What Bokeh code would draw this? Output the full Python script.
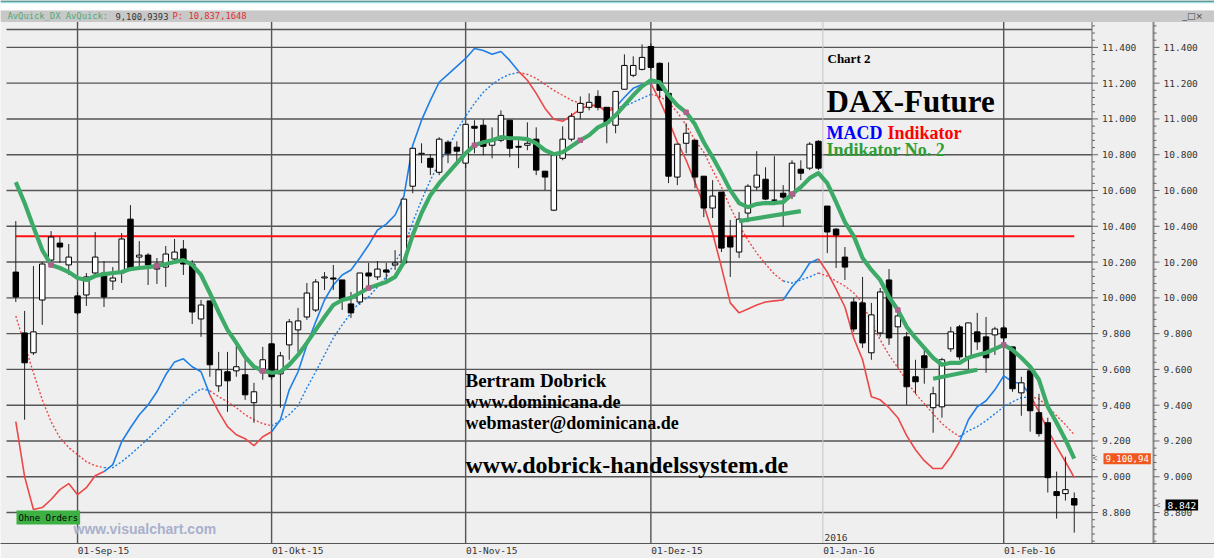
from bokeh.plotting import figure
from bokeh.models import Range1d, FixedTicker, Label, ColumnDataSource
from bokeh.embed import file_html
from bokeh.resources import INLINE
from bokeh.core.properties import value

# ---------------- data ----------------
bars = list(range(121))
opens = [10144, 9804, 9693, 9988, 10211, 10306, 10184, 10011, 10016, 10139,
         10139, 10094, 10139, 10440, 10228, 10239, 10189, 10172, 10217, 10273,
         10189, 9882, 9983, 9508, 9587, 9592, 9570, 9414, 9581, 9743,
         9575, 9737, 9821, 9893, 9932, 10111, 10111, 10100, 9966, 9977,
         10139, 10117, 10156, 10184, 10195, 10624, 10803, 10780, 10702, 10870,
         10842, 10753, 10959, 10965, 10853, 10881, 10993, 10847, 10853, 10887,
         10708, 10490, 10780, 10887, 11037, 11065, 11126, 11065, 10965, 11166,
         11244, 11277, 11405, 11311, 11143, 10675, 10864, 10881, 10680, 10502,
         10591, 10340, 10256, 10474, 10619, 10663, 10546, 10585, 10569, 10719,
         10725, 10875, 10513, 10384, 10228, 9977, 9972, 9693, 9804, 10100,
         9838, 9782, 9559, 9676, 9386, 9391, 9715, 9838, 9670, 9810,
         9782, 9793, 9832, 9726, 9469, 9592, 9358, 9302, 8917, 8906, 8878]
highs = [10429, 9927, 10178, 10200, 10373, 10340, 10301, 10033, 10139, 10368,
         10206, 10172, 10362, 10518, 10317, 10250, 10223, 10290, 10329, 10323,
         10211, 9988, 9983, 9698, 9698, 9732, 9659, 9525, 9726, 9748,
         9698, 9882, 9944, 10083, 10105, 10144, 10184, 10100, 10033, 10139,
         10195, 10206, 10195, 10267, 10552, 10836, 10864, 10803, 10898, 10881,
         10875, 10970, 10993, 10998, 10953, 11048, 10993, 10881, 10981, 10953,
         10708, 10797, 10959, 11032, 11126, 11143, 11160, 11065, 11154, 11361,
         11350, 11417, 11422, 11316, 11316, 10859, 10976, 10881, 10680, 10658,
         10591, 10435, 10479, 10635, 10820, 10730, 10792, 10630, 10769, 10769,
         10870, 10881, 10513, 10390, 10284, 10000, 10117, 9972, 10055, 10161,
         9944, 9810, 9654, 9726, 9503, 9665, 9838, 9849, 9860, 9916,
         9893, 9838, 9843, 9726, 9559, 9592, 9464, 9330, 9029, 9112, 8912]
lows = [9977, 9319, 9681, 9849, 10200, 10195, 10128, 9905, 9955, 10111,
        9949, 10044, 10083, 10156, 10156, 10072, 10078, 10061, 10200, 10128,
        9854, 9782, 9559, 9475, 9363, 9559, 9430, 9302, 9542, 9542,
        9386, 9654, 9698, 9877, 9921, 10044, 10044, 9932, 9888, 9960,
        10044, 10100, 10083, 10156, 10184, 10585, 10753, 10686, 10686, 10753,
        10741, 10725, 10808, 10797, 10780, 10870, 10786, 10725, 10825, 10686,
        10602, 10485, 10769, 10875, 10998, 11048, 11048, 10864, 10920, 11166,
        11233, 11271, 11271, 11115, 10641, 10630, 10808, 10613, 10451, 10446,
        10256, 10117, 10223, 10423, 10602, 10546, 10518, 10396, 10552, 10658,
        10714, 10714, 10250, 10167, 10100, 9810, 9720, 9654, 9782, 9737,
        9609, 9402, 9464, 9520, 9246, 9330, 9698, 9654, 9598, 9709,
        9581, 9681, 9737, 9475, 9341, 9252, 9224, 8912, 8766, 8867, 8688]
closes = [10005, 9637, 9810, 10189, 10340, 10284, 10228, 9916, 10117, 10228,
          10005, 10111, 10329, 10167, 10239, 10184, 10161, 10245, 10256, 10189,
          9921, 9960, 9626, 9598, 9536, 9615, 9458, 9475, 9654, 9559,
          9676, 9866, 9871, 10027, 10089, 10117, 10105, 9994, 9916, 10139,
          10122, 10161, 10144, 10195, 10552, 10836, 10808, 10730, 10887, 10808,
          10820, 10970, 10948, 10847, 10881, 11020, 10836, 10842, 10864, 10714,
          10675, 10797, 10887, 11015, 11087, 11093, 11065, 10976, 11154, 11299,
          11299, 11344, 11288, 11160, 10680, 10859, 10920, 10675, 10502, 10569,
          10278, 10284, 10440, 10624, 10686, 10552, 10546, 10563, 10753, 10697,
          10859, 10725, 10368, 10351, 10172, 9826, 9748, 9905, 10033, 9776,
          9899, 9503, 9531, 9609, 9464, 9654, 9810, 9670, 9860, 9754,
          9665, 9826, 9776, 9492, 9525, 9369, 9241, 8995, 8895, 8928, 8842]

# green thick average ("Indikator No. 2")
avquick = [10647, 10530, 10396, 10267, 10184, 10167, 10144, 10111, 10100, 10122,
           10133, 10139, 10144, 10161, 10167, 10172, 10178, 10189, 10200, 10211,
           10184, 10128, 10027, 9921, 9821, 9748, 9670, 9615, 9592, 9581,
           9587, 9626, 9681, 9748, 9821, 9893, 9960, 9988, 10000, 10027,
           10055, 10072, 10089, 10117, 10200, 10351, 10474, 10574, 10641, 10697,
           10753, 10808, 10853, 10870, 10881, 10898, 10892, 10892, 10887, 10864,
           10825, 10803, 10814, 10847, 10881, 10909, 10953, 10976, 11020, 11076,
           11132, 11182, 11216, 11205, 11132, 11076, 11037, 10970, 10870, 10786,
           10697, 10602, 10530, 10507, 10524, 10530, 10530, 10535, 10580, 10619,
           10669, 10697, 10641, 10535, 10423, 10345, 10223, 10156, 10100, 10005,
           9932, 9838, 9776, 9720, 9665, 9626, 9637, 9637, 9665, 9681,
           9693, 9715, 9737, 9709, 9665, 9615, 9542, 9391, 9302, 9207, 9101]
marker_bars = [4, 16, 28, 40, 52, 64, 76, 88, 100, 112]

# MACD (solid) and signal (dotted), drawn on the price scale
macd = [9308, 9001, 8817, 8828, 8873, 8928, 8962, 8900, 8939, 9006,
        9029, 9068, 9196, 9274, 9347, 9402, 9475, 9570, 9642, 9659,
        9615, 9587, 9458, 9363, 9280, 9235, 9213, 9174, 9224, 9252,
        9319, 9486, 9587, 9737, 9866, 9988, 10072, 10128, 10156, 10223,
        10295, 10379, 10412, 10463, 10569, 10853, 10993, 11104, 11205, 11249,
        11294, 11338, 11394, 11383, 11361, 11377, 11327, 11266, 11216, 11143,
        11059, 10998, 10987, 11020, 11054, 11076, 11076, 11037, 11065, 11121,
        11171, 11193, 11199, 11104, 10993, 10870, 10769, 10647, 10518, 10362,
        10172, 9972, 9916, 9938, 9960, 9977, 9983, 9988, 10061, 10117,
        10195, 10217, 10144, 10049, 9949, 9776, 9654, 9447, 9430, 9386,
        9330, 9230, 9151, 9090, 9046, 9046, 9112, 9196, 9319, 9391,
        9425, 9486, 9564, 9531, 9520, 9458, 9363, 9263, 9168, 9084, 8995]
signal = [9899, 9737, 9581, 9430, 9308, 9218, 9163, 9124, 9084, 9062,
          9051, 9051, 9084, 9124, 9168, 9213, 9263, 9313, 9363, 9414,
          9458, 9492, 9481, 9447, 9419, 9386, 9347, 9319, 9297, 9285,
          9313, 9347, 9397, 9497, 9587, 9681, 9776, 9849, 9916, 9977,
          10005, 10061, 10117, 10200, 10278, 10423, 10546, 10658, 10753, 10836,
          10937, 11015, 11087, 11149, 11193, 11227, 11249, 11260, 11249, 11227,
          11193, 11160, 11132, 11104, 11087, 11076, 11065, 11059, 11065, 11071,
          11093, 11115, 11138, 11126, 11093, 11037, 10965, 10881, 10814, 10714,
          10619, 10507, 10407, 10323, 10250, 10189, 10133, 10094, 10083, 10100,
          10117, 10139, 10122, 10094, 10066, 10027, 9972, 9860, 9765, 9681,
          9609, 9536, 9464, 9408, 9352, 9297, 9257, 9224, 9257, 9280,
          9313, 9352, 9391, 9419, 9442, 9447, 9436, 9391, 9341, 9291, 9235]
# bars where the MACD pair changes colour (starts red)
switch_bars = [10, 22, 29, 57, 68, 72, 87, 91, 107, 115]

# drawn lines
level_line = 10345
trend1_bars, trend1_vals = [82, 89], [10429, 10485]
trend2_bars, trend2_vals = [104, 109], [9548, 9598]

# axes
month_ticks = [7, 29, 51, 72, 91.5, 112]
month_labels = ["01-Sep-15", "01-Okt-15", "01-Nov-15", "01-Dez-15", "01-Jan-16", "01-Feb-16"]
month_lines = [7, 29, 51, 72, 112]
year_line = 91.5
y_ticks = [8800, 9000, 9200, 9400, 9600, 9800, 10000, 10200, 10400, 10600, 10800, 11000, 11200, 11400]
y_labels = ["8.800", "9.000", "9.200", "9.400", "9.600", "9.800", "10.000", "10.200",
            "10.400", "10.600", "10.800", "11.000", "11.200", "11.400"]
extra_line = 11500
avquick_last_label = "9.100,94"
close_last_label = "8.842"
header_parts = ["AvQuick_DX AvQuick:", "9,100,9393", "P: 10,837,1648"]

# ---------------- style ----------------
W, H = 1214, 558
MONO = "DejaVu Sans Mono"
SERIF = "Liberation Serif"
RED = "#ec4848"
BLUE = "#1e7fe6"
GREEN = "#3daa68"
BG = "#efefef"
GRID = "#555555"

# pixel -> data helpers (layout only; frame covers canvas x 0..1214, y 0..544)
def PX(px):
    return (px - 15.3) / 8.8205

def PY(py):
    return 11662 - 5.579 * py

p = figure(width=W, height=H, x_range=Range1d(PX(0), PX(W)), y_range=Range1d(PY(544), PY(0)),
           output_backend="svg", toolbar_location=None,
           min_border_left=0, min_border_right=0, min_border_top=0, min_border_bottom=14,
           background_fill_color=BG, border_fill_color=BG)
p.outline_line_color = None
p.yaxis.visible = False
p.grid.visible = False

Y0 = PY(544)      # bottom of chart
YT = PY(21.5)     # top of chart area (under the header bar)
XL, XR = PX(6), PX(1091.5)

# header strip
p.quad(left=[PX(0)], right=[PX(W)], top=[PY(0)], bottom=[PY(10)], fill_color="white", line_color=None)
p.quad(left=[PX(0)], right=[PX(W)], top=[PY(0)], bottom=[PY(1.2)], fill_color="#1b5a5a", line_color=None)
p.quad(left=[PX(0)], right=[PX(W)], top=[PY(1.2)], bottom=[PY(2.8)], fill_color="#9ddede", line_color=None)
p.quad(left=[PX(0)], right=[PX(W)], top=[PY(10)], bottom=[YT], fill_color="#c8c8c8", line_color=None)
for txt, px, col in zip(header_parts, [7, 115, 172], ["#4caa78", "#333333", "#e03030"]):
    p.text(x=[PX(px)], y=[PY(16)], text=[txt], text_color=col, text_font=value(MONO),
           text_font_size="8.8px", text_baseline="middle")
p.text(x=[PX(1182)], y=[PY(16)], text=["_□×"], text_color="#444444",
       text_font=value("DejaVu Sans"), text_font_size="9px", text_baseline="middle")

# grid lines
p.segment(x0=XL, y0=y_ticks + [extra_line], x1=XR, y1=y_ticks + [extra_line],
          line_color=GRID, line_width=1.4)
p.segment(x0=month_lines, y0=Y0, x1=month_lines, y1=YT, line_color=GRID, line_width=1.4)
p.segment(x0=[year_line], y0=Y0, x1=[year_line], y1=YT, line_color="#c4c4c4", line_width=1)

# x axis (labels start at the month line)
xa = p.xaxis[0]
label_pos = [t + 2.95 for t in month_ticks]
xa.ticker = FixedTicker(ticks=label_pos)
xa.major_label_overrides = {pos: lab for pos, lab in zip(label_pos, month_labels)}
xa.major_tick_out = 0
xa.major_tick_in = 0
xa.minor_tick_out = 0
xa.minor_tick_in = 0
xa.major_label_standoff = 1
xa.axis_line_color = GRID
xa.major_label_text_font = MONO
xa.major_label_text_font_size = "9.5px"
xa.major_label_text_color = "#333333"

# two price scales on the right
minor = [v for v in range(8640, 11540, 40) if v not in y_ticks]
for ax_px, width, col in [(1091.5, 1, "#666666"), (1153, 2, "#8a8a8a")]:
    p.segment(x0=[PX(ax_px)], y0=[Y0], x1=[PX(ax_px)], y1=[YT], line_color=col, line_width=width)
    p.segment(x0=PX(ax_px), y0=y_ticks, x1=PX(ax_px + 6), y1=y_ticks, line_color="#666666", line_width=1)
    p.segment(x0=PX(ax_px), y0=minor, x1=PX(ax_px + 3), y1=minor, line_color="#666666", line_width=1)
    p.text(x=PX(ax_px + 10), y=y_ticks, text=y_labels, text_color="#333333", text_font=value(MONO),
           text_font_size="9.5px", text_baseline="middle", text_align="left")

# MACD pair, coloured in runs
def runs(vals):
    bounds = [0] + switch_bars + [len(vals) - 1]
    xs, ys, cs = [], [], []
    for k in range(len(bounds) - 1):
        a, b = bounds[k], bounds[k + 1]
        xs.append(bars[a:b + 1])
        ys.append(vals[a:b + 1])
        cs.append(RED if k % 2 == 0 else BLUE)
    return ColumnDataSource(dict(xs=xs, ys=ys, c=cs))

p.multi_line(xs="xs", ys="ys", line_color="c", line_width=1.4, line_dash="2 2", source=runs(signal))
p.multi_line(xs="xs", ys="ys", line_color="c", line_width=1.6, source=runs(macd))

# level line
p.line([bars[0], bars[-1]], [level_line, level_line], line_color="#ff1010", line_width=2)

# candles
fill = ["#ffffff" if c >= o else "#000000" for o, c in zip(opens, closes)]
src = ColumnDataSource(dict(x=bars, h=highs, l=lows,
                            top=[max(o, c) for o, c in zip(opens, closes)],
                            bot=[min(o, c) for o, c in zip(opens, closes)],
                            fill=fill))
p.segment(x0="x", y0="h", x1="x", y1="l", line_color="#222222", line_width=1, source=src)
p.vbar(x="x", top="top", bottom="bot", width=0.62, fill_color="fill", line_color="#000000",
       line_width=1, source=src)

# green indicator
p.line(bars, avquick, line_color=GREEN, line_width=4.2, line_join="round")
p.line(trend1_bars, trend1_vals, line_color=GREEN, line_width=4.2)
p.line(trend2_bars, trend2_vals, line_color=GREEN, line_width=4.2)
p.scatter([bars[i] for i in marker_bars], [avquick[i] for i in marker_bars],
          marker="square", size=4.5, fill_color="#b0608c", line_color="#b0608c")

# texts (y given as the vertical centre of the text line)
def lab(text, px, py, size, color="#000000", font=SERIF, style="bold", **kw):
    p.add_layout(Label(x=PX(px), y=PY(py), text=text, text_font=font, text_font_size=size,
                       text_font_style=style, text_color=color, text_baseline="middle", **kw))

lab("Chart 2", 827, 58, "13px")
lab("DAX-Future", 826, 101, "31px")
lab("MACD", 826, 132.5, "18px", color="#0000ff")
lab("Indikator", 887, 132.5, "18px", color="#ff0000")
lab("Indikator No. 2", 826, 149.5, "18px", color="#2f9e35")
lab("Bertram Dobrick", 465, 381, "19px")
lab("www.dominicana.de", 465, 402, "18px")
lab("webmaster@dominicana.de", 465, 423, "18px")
lab("www.dobrick-handelssystem.de", 465, 465, "24px")
lab("www.visualchart.com", 73, 529, "14px", color="#a9b0cc", font="Liberation Sans")
lab("2016", 824, 538, "9.5px", color="#333333", font=MONO, style="normal")
lab("Ohne Orders", 16, 518, "9px", font=MONO, style="normal",
    background_fill_color="#3cb043", padding=2)

# price tags at the scales
p.add_layout(Label(x=PX(1103), y=avquick[-1], text=avquick_last_label, text_font=MONO,
                   text_font_size="9px", text_color="white", text_baseline="middle",
                   background_fill_color="#f0581e", padding=2))
p.add_layout(Label(x=PX(1165), y=closes[-1], text=close_last_label, text_font=MONO,
                   text_font_size="9.5px", text_color="white", text_baseline="middle",
                   background_fill_color="#000000", padding=2))
p.text(x=[PX(1092), PX(1155)], y=[avquick[-1], closes[-1]], text=["<", "<"], text_color="#777777",
       text_font=value(MONO), text_font_size="8px", text_baseline="middle")

open("out.html", "w").write(file_html(p, INLINE))
